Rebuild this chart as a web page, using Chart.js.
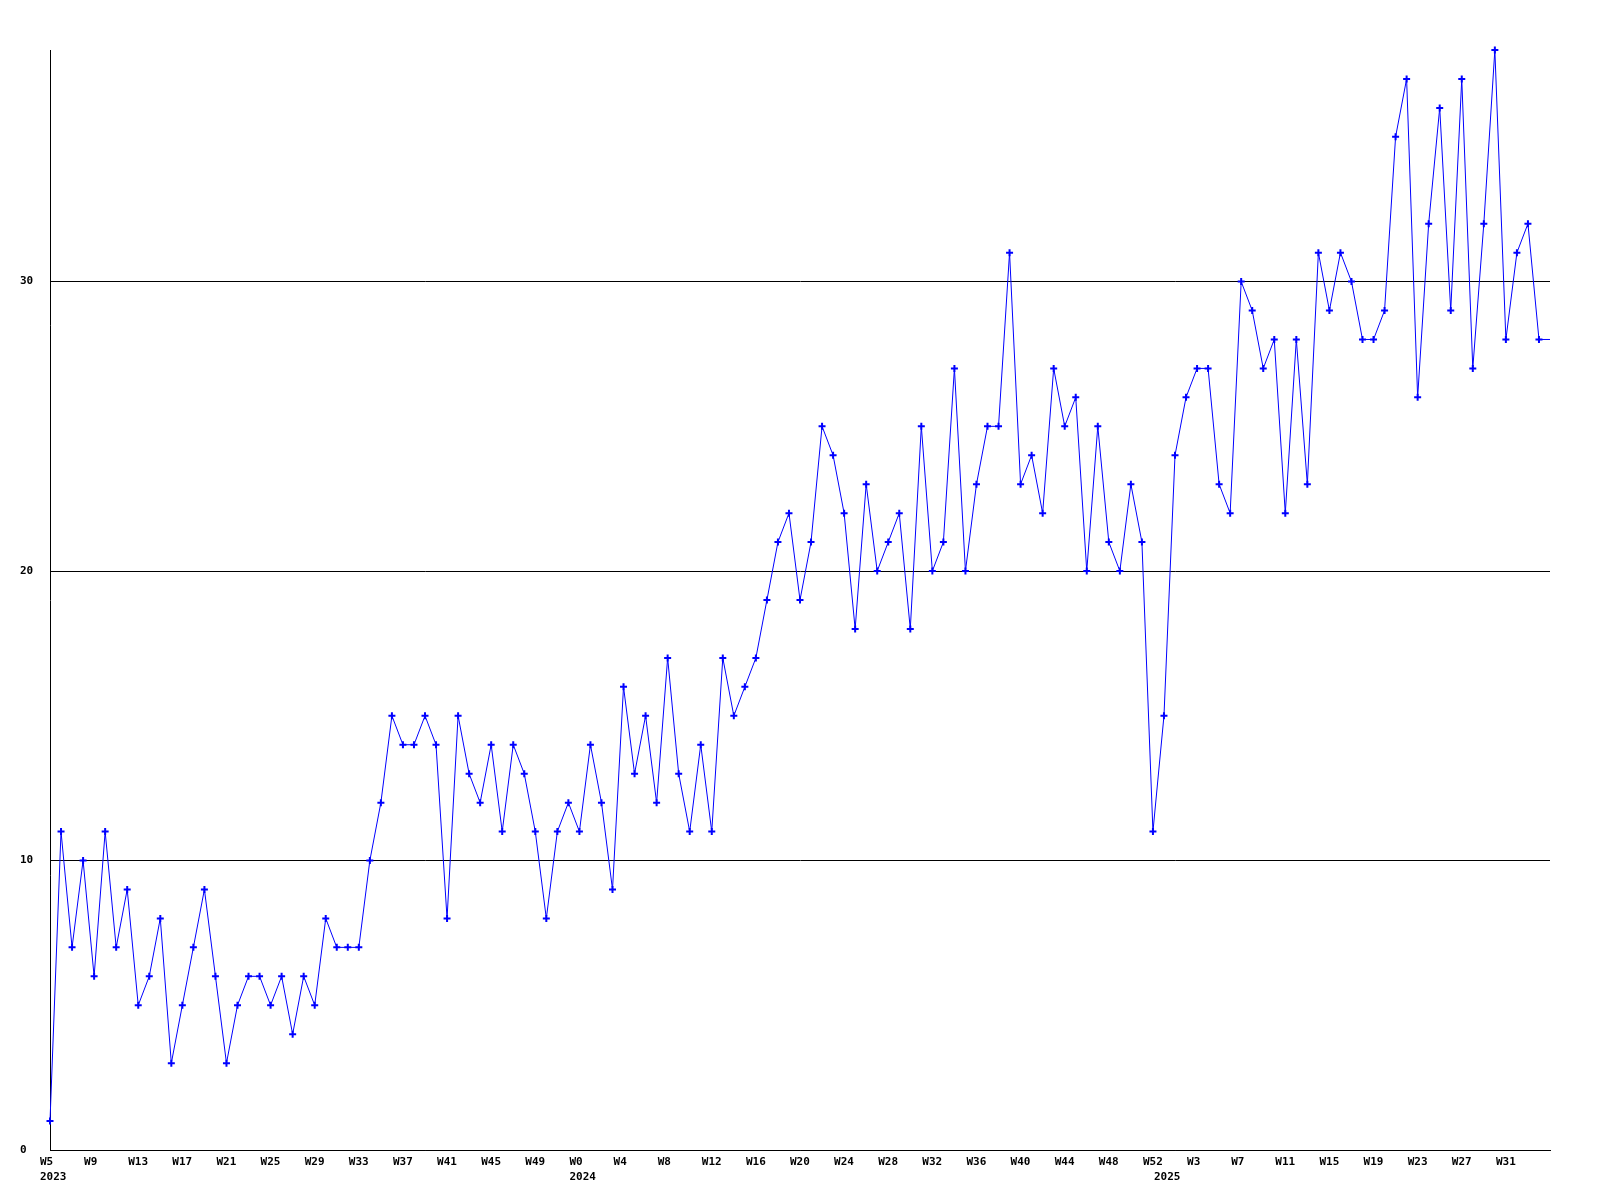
<!DOCTYPE html>
<html>
<head>
<meta charset="utf-8">
<script src="https://cdn.jsdelivr.net/npm/chart.js@4/dist/chart.umd.min.js"></script>
<style>
  html, body { margin: 0; padding: 0; background: #ffffff; }
  #wrap { width: 1600px; height: 1200px; }
</style>
</head>
<body>
<div id="wrap"><canvas id="c" width="1600" height="1200"></canvas></div>
<script>
// Year spans of the weekly categories: [year, first week, last week]
const yearSpans = [[2023, 5, 52], [2024, 0, 52], [2025, 0, 35]];

// Weekly values per year
const values2023 = [1, 11, 7, 10, 6, 11, 7, 9, 5, 6, 8, 3, 5, 7, 9, 6, 3, 5, 6, 6, 5, 6, 4, 6, 5, 8, 7, 7, 7, 10, 12,
                    15, 14, 14, 15, 14, 8, 15, 13, 12, 14, 11, 14, 13, 11, 8, 11, 12];
const values2024 = [11, 14, 12, 9, 16, 13, 15, 12, 17, 13, 11, 14, 11, 17, 15, 16,
                    17, 19, 21, 22, 19, 21, 25, 24, 22, 18, 23, 20, 21, 22, 18, 25, 20, 21, 27, 20,
                    23, 25, 25, 31, 23, 24, 22, 27, 25, 26, 20, 25, 21, 20, 23, 21, 11];
const values2025 = [15, 24, 26, 27, 27, 23, 22, 30, 29, 27, 28, 22, 28, 23, 31, 29, 31, 30, 28, 28,
                    29, 35, 37, 26, 32, 36, 29, 37, 27, 32, 38, 28, 31, 32, 28, 28];

// Y axis ticks
const yTicks = [0, 10, 20, 30];
const yMax = 38;

// Build categories
const weekLabels = [];
const weekYears = [];
const weekNums = [];
yearSpans.forEach(([y, a, b]) => {
  for (let w = a; w <= b; w++) { weekLabels.push(y + '-W' + w); weekYears.push(y); weekNums.push(w); }
});
const values = values2023.concat(values2024, values2025);

// index of first week of each year (gets the year line)
const yearStart = {};
weekYears.forEach((y, i) => { if (!(y in yearStart)) yearStart[y] = i; });
const yearStartIdx = Object.values(yearStart);

const radii = values.map((v, i) => i === values.length - 1 ? 0 : 3.5);

const FONT = { family: '"DejaVu Sans Mono", "Liberation Mono", monospace', size: 11, weight: 'bold', lineHeight: 15 / 11 };

new Chart(document.getElementById('c'), {
  type: 'line',
  data: {
    labels: weekLabels,
    datasets: [{
      data: values,
      borderColor: '#0000ff',
      backgroundColor: '#0000ff',
      borderWidth: 1,
      tension: 0,
      fill: false,
      pointStyle: 'cross',
      pointRadius: radii,
      pointHoverRadius: radii,
      pointBorderWidth: 2,
      pointBorderColor: '#0000ff',
      clip: 6
    }]
  },
  options: {
    responsive: false,
    animation: false,
    devicePixelRatio: 1,
    layout: { padding: { left: 20, right: 50, top: 50, bottom: 0 } },
    plugins: { legend: { display: false }, tooltip: { enabled: false }, title: { display: false } },
    scales: {
      x: {
        type: 'category',
        offset: false,
        grid: { display: false, drawTicks: false },
        border: { display: true, color: '#000000', width: 1 },
        afterFit: (s) => { s.height = 50; },
        ticks: {
          autoSkip: false,
          maxRotation: 0,
          minRotation: 0,
          align: 'start',
          labelOffset: -10,
          padding: 5,
          color: '#000000',
          font: FONT,
          callback: function (val, i) {
            const last = values.length - 1;
            const showWeek = (i % 4 === 0) && i !== last;
            const wk = showWeek ? 'W' + weekNums[i] : '';
            if (yearStartIdx.includes(i)) return [wk, String(weekYears[i])];
            return wk;
          }
        }
      },
      y: {
        min: 0,
        max: yMax,
        afterFit: (s) => { s.width = 30; },
        afterBuildTicks: (s) => { s.ticks = yTicks.map(v => ({ value: v })); },
        grid: { display: true, color: '#000000', lineWidth: 1, drawTicks: false },
        border: { display: true, color: '#000000', width: 1 },
        ticks: {
          includeBounds: false,
          crossAlign: 'far',
          padding: 0,
          color: '#000000',
          font: FONT
        }
      }
    }
  }
});
</script>
</body>
</html>
